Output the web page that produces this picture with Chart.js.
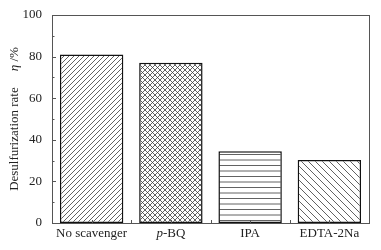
<!DOCTYPE html>
<html>
<head>
<meta charset="utf-8">
<script src="https://cdn.jsdelivr.net/npm/chart.js@4"></script>
<style>
  html, body { margin: 0; padding: 0; background: #fff; }
  #wrap { width: 381px; height: 250px; }
</style>
</head>
<body>
<div id="wrap"><canvas id="chart"></canvas></div>
<script>
const categories = ['No scavenger', 'p-BQ', 'IPA', 'EDTA-2Na'];
const italicPrefix = ['', 'p', '', ''];
const rates = [81, 77, 34.5, 30.3];
const yMajorTicks = [0, 20, 40, 60, 80, 100];
const yMinorTicks = [10, 30, 50, 70, 90];
const yTitle = 'Desulfurization rate';
const yTitleSymbol = 'η';
const yTitleUnit = ' /%';

const FONT = '"Liberation Serif", "Times New Roman", serif';
const FONT_SIZE = 13;

// Hatch patterns
function makePattern(kind) {
    const s = kind === 'back' ? 7 : (kind === 'hz' ? 5.5 : 5);
    const size = Math.round(s * 2);
    const c = document.createElement('canvas');
    c.width = size; c.height = size;
    const g = c.getContext('2d');
    g.fillStyle = '#fff';
    g.fillRect(0, 0, size, size);
    g.strokeStyle = '#3a3a3a';
    g.lineWidth = 0.8;
    g.beginPath();
    if (kind === 'fwd' || kind === 'cross') {
        for (let k = -size; k <= size * 2; k += size / 2) {
            g.moveTo(k, size); g.lineTo(k + size, 0);
        }
    }
    if (kind === 'back' || kind === 'cross') {
        for (let k = -size; k <= size * 2; k += size / 2) {
            g.moveTo(k, 0); g.lineTo(k + size, size);
        }
    }
    if (kind === 'hz') {
        g.moveTo(0, 0.5); g.lineTo(size, 0.5);
        g.moveTo(0, size / 2 + 0.5); g.lineTo(size, size / 2 + 0.5);
    }
    g.stroke();
    return g.createPattern(c, 'repeat');
}

const patterns = [makePattern('fwd'), makePattern('cross'), makePattern('hz'), makePattern('back')];

// Frame, inner ticks and rich-text labels
const decorations = {
    id: 'decorations',
    afterDraw(chart) {
        const ctx = chart.ctx;
        const area = chart.chartArea;
        const x = chart.scales.x;
        const y = chart.scales.y;
        ctx.save();

        // frame
        ctx.strokeStyle = '#555';
        ctx.lineWidth = 1;
        ctx.strokeRect(Math.round(area.left) + 0.5, Math.round(area.top) + 0.5,
            Math.round(area.right - area.left), Math.round(area.bottom - area.top));

        // y ticks pointing inward
        ctx.beginPath();
        yMajorTicks.forEach(v => {
            const py = Math.round(y.getPixelForValue(v)) + 0.5;
            ctx.moveTo(area.left, py); ctx.lineTo(area.left + 4, py);
        });
        yMinorTicks.forEach(v => {
            const py = Math.round(y.getPixelForValue(v)) + 0.5;
            ctx.moveTo(area.left, py); ctx.lineTo(area.left + 2.5, py);
        });
        // x ticks pointing up, at centres and boundaries
        const step = x.getPixelForValue(1) - x.getPixelForValue(0);
        categories.forEach((_, i) => {
            const cx = Math.round(x.getPixelForValue(i)) + 0.5;
            ctx.moveTo(cx, area.bottom); ctx.lineTo(cx, area.bottom - 3);
            if (i > 0) {
                const bx = Math.round(x.getPixelForValue(i) - step / 2) + 0.5;
                ctx.moveTo(bx, area.bottom); ctx.lineTo(bx, area.bottom - 3);
            }
        });
        ctx.stroke();

        // x labels
        ctx.fillStyle = '#222';
        ctx.textBaseline = 'middle';
        ctx.textAlign = 'left';
        const ly = area.bottom + 11;
        categories.forEach((label, i) => {
            const pre = italicPrefix[i];
            const rest = label.slice(pre.length);
            ctx.font = 'italic ' + FONT_SIZE + 'px ' + FONT;
            const w1 = ctx.measureText(pre).width;
            ctx.font = FONT_SIZE + 'px ' + FONT;
            const w2 = ctx.measureText(rest).width;
            const start = x.getPixelForValue(i) - (w1 + w2) / 2;
            ctx.font = 'italic ' + FONT_SIZE + 'px ' + FONT;
            ctx.fillText(pre, start, ly);
            ctx.font = FONT_SIZE + 'px ' + FONT;
            ctx.fillText(rest, start + w1, ly);
        });

        // y title, rotated
        ctx.font = FONT_SIZE + 'px ' + FONT;
        const wA = ctx.measureText(yTitle).width;
        const gap = 16;
        ctx.font = 'italic ' + FONT_SIZE + 'px ' + FONT;
        const wB = ctx.measureText(yTitleSymbol).width;
        ctx.font = FONT_SIZE + 'px ' + FONT;
        const wC = ctx.measureText(yTitleUnit).width;
        const total = wA + gap + wB + wC;
        const cy = (area.top + area.bottom) / 2;
        ctx.translate(15, cy + total / 2);
        ctx.rotate(-Math.PI / 2);
        ctx.fillText(yTitle, 0, 0);
        ctx.font = 'italic ' + FONT_SIZE + 'px ' + FONT;
        ctx.fillText(yTitleSymbol, wA + gap, 0);
        ctx.font = FONT_SIZE + 'px ' + FONT;
        ctx.fillText(yTitleUnit, wA + gap + wB, 0);

        ctx.restore();
    }
};

const ctx = document.getElementById('chart').getContext('2d');
new Chart(ctx, {
    type: 'bar',
    data: {
        labels: categories,
        datasets: [{
            data: rates,
            backgroundColor: patterns,
            borderColor: '#111',
            borderWidth: 1.5,
            borderSkipped: false,
            barPercentage: 0.8,
            categoryPercentage: 1
        }]
    },
    options: {
        responsive: true,
        maintainAspectRatio: false,
        animation: false,
        devicePixelRatio: 1,
        layout: { padding: { top: 15, right: 12, left: 0, bottom: 0 } },
        plugins: {
            legend: { display: false },
            tooltip: { enabled: false }
        },
        scales: {
            x: {
                type: 'category',
                grid: { display: false },
                border: { display: false },
                ticks: { display: false },
                afterFit: s => { s.height = 27; }
            },
            y: {
                min: 0,
                max: 100,
                grid: { display: false },
                border: { display: false },
                ticks: {
                    stepSize: 20,
                    padding: 2,
                    color: '#222',
                    font: { family: FONT, size: FONT_SIZE }
                },
                afterFit: s => { s.width = 52; }
            }
        }
    },
    plugins: [decorations]
});
</script>
</body>
</html>
